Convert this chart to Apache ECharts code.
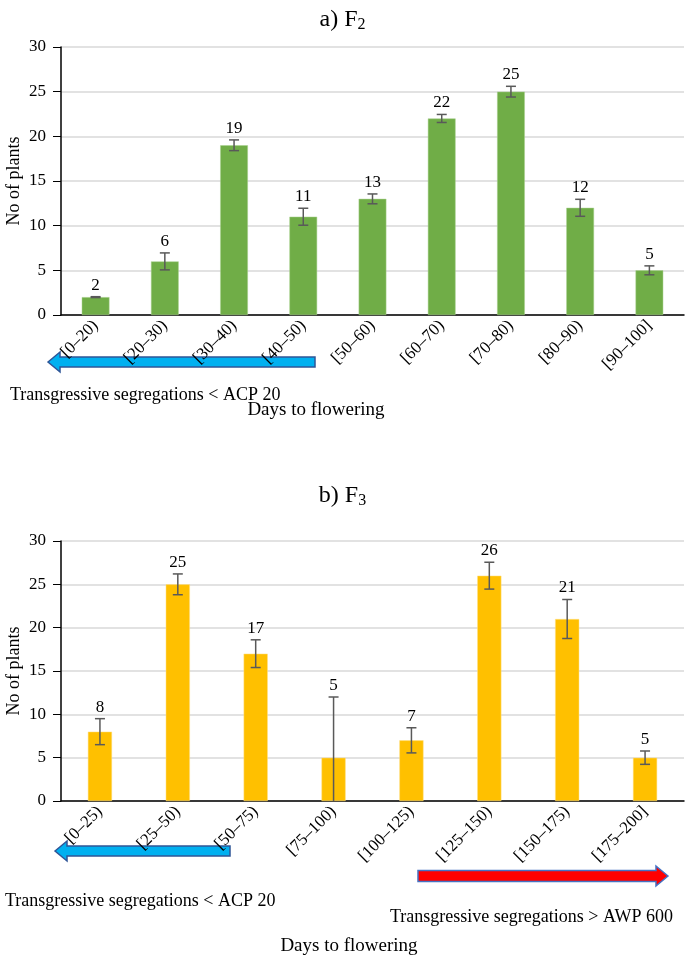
<!DOCTYPE html>
<html>
<head>
<meta charset="utf-8">
<script src="https://cdn.jsdelivr.net/npm/echarts@6/dist/echarts.min.js"></script>
<style>
html,body{margin:0;padding:0;background:#fff;}
#chart{width:685px;height:960px;}
</style>
</head>
<body>
<div id="chart"></div>
<script>
// ---- Data ----
var catsA = ['[0–20)', '[20–30)', '[30–40)', '[40–50)', '[50–60)', '[60–70)', '[70–80)', '[80–90)', '[90–100]'];
var valsA = [2, 6, 19, 11, 13, 22, 25, 12, 5];
var errA  = [0.05, 0.95, 0.6, 0.95, 0.55, 0.45, 0.6, 0.95, 0.5];

var catsB = ['[0–25)', '[25–50)', '[50–75)', '[75–100)', '[100–125)', '[125–150)', '[150–175)', '[175–200]'];
var valsB = [8, 25, 17, 5, 7, 26, 21, 5];
var errB  = [1.5, 1.2, 1.6, 7, 1.45, 1.55, 2.25, 0.77];

// ---- Styling ----
var SERIF = '"Liberation Serif", "Times New Roman", serif';

function errData(vals, errs) {
  return vals.map(function (v, i) { return [i, v, errs[i]]; });
}

function errRender(params, api) {
  var i = api.value(0), v = api.value(1), e = api.value(2);
  var lowVal = v - e;
  var top = api.coord([i, v + e]);
  var low = api.coord([i, Math.max(0, lowVal)]);
  var cap = 5;
  var ls = { stroke: '#595959', lineWidth: 1.5 };
  var children = [
    { type: 'line', shape: { x1: top[0], y1: top[1], x2: low[0], y2: low[1] }, style: ls },
    { type: 'line', shape: { x1: top[0] - cap, y1: top[1], x2: top[0] + cap, y2: top[1] }, style: ls }
  ];
  if (lowVal >= 0) {
    children.push({ type: 'line', shape: { x1: low[0] - cap, y1: low[1], x2: low[0] + cap, y2: low[1] }, style: ls });
  }
  children.push({
    type: 'text',
    style: {
      x: top[0], y: top[1] - 3,
      text: String(v),
      fill: '#000',
      font: '17px ' + SERIF,
      textAlign: 'center',
      textVerticalAlign: 'bottom'
    }
  });
  return { type: 'group', children: children };
}

function arrow(tipX, tailX, y, shaftH, headH, headL, fill, stroke) {
  var d = tipX < tailX ? 1 : -1;
  var hx = tipX + d * headL;
  return {
    type: 'polygon',
    shape: {
      points: [
        [tipX, y], [hx, y - headH], [hx, y - shaftH], [tailX, y - shaftH],
        [tailX, y + shaftH], [hx, y + shaftH], [hx, y + headH]
      ]
    },
    style: { fill: fill, stroke: stroke, lineWidth: 1.5 }
  };
}

function txt(x, y, s, size, align) {
  return {
    type: 'text',
    style: {
      x: x, y: y, text: s, fill: '#000',
      font: size + 'px ' + SERIF,
      textAlign: align || 'left',
      textVerticalAlign: 'middle'
    }
  };
}

function yAxisCfg(gridIndex) {
  return {
    type: 'value', gridIndex: gridIndex, min: 0, max: 30, interval: 5,
    name: 'No of plants', nameLocation: 'middle', nameGap: 38, nameMoveOverlap: false,
    nameTextStyle: { fontFamily: SERIF, fontSize: 18, color: '#000' },
    axisLine: { show: true, lineStyle: { color: '#000', width: 1.5 } },
    axisTick: { show: true, length: 8, lineStyle: { color: '#000' } },
    axisLabel: { fontFamily: SERIF, fontSize: 17, color: '#000', margin: 15 },
    splitLine: { show: true, lineStyle: { color: '#D9D9D9', width: 1.5 } }
  };
}

function xAxisCfg(gridIndex, cats) {
  return {
    type: 'category', gridIndex: gridIndex, data: cats,
    axisLine: { show: true, lineStyle: { color: '#000', width: 1.5 } },
    axisTick: { show: false },
    axisLabel: { fontFamily: SERIF, fontSize: 17, color: '#000', rotate: 45, margin: 8, interval: 0 },
    splitLine: { show: false }
  };
}

var titleRich = {
  sub: { fontFamily: SERIF, fontSize: 16, color: '#000', verticalAlign: 'bottom', padding: [11, 0, 0, 0] }
};

var chart = echarts.init(document.getElementById('chart'), null, { renderer: 'canvas' });
chart.setOption({
  backgroundColor: '#fff',
  animation: false,
  title: [
    { text: 'a) F{sub|2}', left: 'center', top: 1,
      textStyle: { fontFamily: SERIF, fontSize: 24, fontWeight: 'normal', color: '#000', rich: titleRich } },
    { text: 'b) F{sub|3}', left: 'center', top: 477,
      textStyle: { fontFamily: SERIF, fontSize: 24, fontWeight: 'normal', color: '#000', rich: titleRich } }
  ],
  grid: [
    { left: 61, top: 47, width: 623, height: 268, containLabel: false, outerBoundsMode: 'none' },
    { left: 61, top: 541, width: 623, height: 260, containLabel: false, outerBoundsMode: 'none' }
  ],
  xAxis: [xAxisCfg(0, catsA), xAxisCfg(1, catsB)],
  yAxis: [yAxisCfg(0), yAxisCfg(1)],
  series: [
    { type: 'bar', xAxisIndex: 0, yAxisIndex: 0, data: valsA, barWidth: '40%',
      itemStyle: { color: '#70AD47', borderColor: '#A9D08E', borderWidth: 0.5 } },
    { type: 'bar', xAxisIndex: 1, yAxisIndex: 1, data: valsB, barWidth: '31%',
      itemStyle: { color: '#FFC000', borderColor: '#FFE08A', borderWidth: 0.5 } },
    { type: 'custom', xAxisIndex: 0, yAxisIndex: 0, data: errData(valsA, errA),
      renderItem: errRender, clip: false, z: 5, encode: { x: 0, y: 1 } },
    { type: 'custom', xAxisIndex: 1, yAxisIndex: 1, data: errData(valsB, errB),
      renderItem: errRender, clip: false, z: 5, encode: { x: 0, y: 1 } }
  ],
  graphic: [
    arrow(48, 315, 362, 5, 10, 12, '#00B0F0', '#2F5597'),
    txt(10, 395, 'Transgressive segregations < ACP 20', 18, 'left'),
    txt(316, 410, 'Days to flowering', 19, 'center'),
    arrow(55, 230, 851, 5, 10, 12, '#00B0F0', '#2F5597'),
    arrow(668, 418, 876, 5.5, 10, 12, '#FF0000', '#4472C4'),
    txt(5, 901, 'Transgressive segregations < ACP 20', 18, 'left'),
    txt(390, 917, 'Transgressive segregations > AWP 600', 18, 'left'),
    txt(349, 946, 'Days to flowering', 19, 'center')
  ]
});
</script>
</body>
</html>
